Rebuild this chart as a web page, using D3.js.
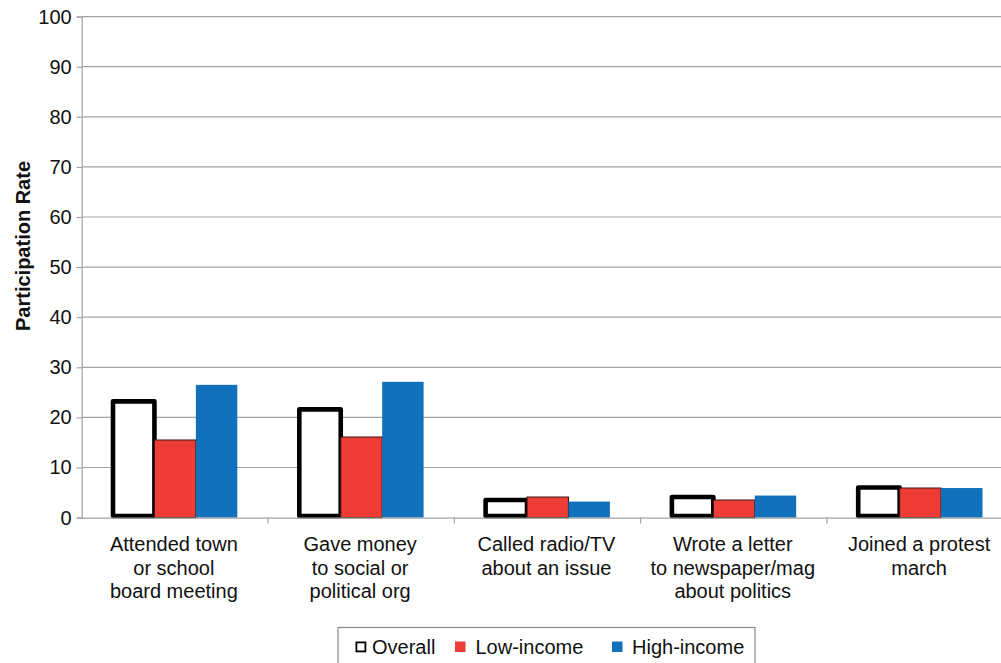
<!DOCTYPE html>
<html>
<head>
<meta charset="utf-8">
<script src="https://cdn.jsdelivr.net/npm/d3@7"></script>
<style>
  html, body { margin: 0; padding: 0; background: #fff; }
  svg { display: block; font-family: "Liberation Sans", Arial, Helvetica, sans-serif; }
</style>
</head>
<body>
<svg id="chart" width="1001" height="663"></svg>
<script>
// ---- data ----
const categories = [
  ["Attended town", "or school", "board meeting"],
  ["Gave money", "to social or", "political org"],
  ["Called radio/TV", "about an issue"],
  ["Wrote a letter", "to newspaper/mag", "about politics"],
  ["Joined a protest", "march"]
];
const seriesNames = ["Overall", "Low-income", "High-income"];
const overall    = [23.2, 21.6, 3.5, 4.1, 6.0];
const lowIncome  = [15.5, 16.1, 4.1, 3.5, 5.9];
const highIncome = [26.5, 27.1, 3.2, 4.4, 5.9];
const yTicks = [0, 10, 20, 30, 40, 50, 60, 70, 80, 90, 100];
const yLabel = "Participation Rate";

// ---- styles ----
const colors = { "Overall": "#ffffff", "Low-income": "#ee3d36", "High-income": "#1172bb" };
const gridColor = "#a3a3a3";
const fontSize = 20;

const svg = d3.select("#chart");
const pLeft = 81.7, pRight = 1013.2, pTop = 16.6, pBottom = 517.6;

const y = d3.scaleLinear().domain([0, 100]).range([pBottom, pTop]);
const idx = categories.map((d, i) => i);
const x0 = d3.scaleBand().domain(idx).range([pLeft, pRight]).padding(0);
const bw = x0.bandwidth();
const x1 = d3.scaleBand().domain(seriesNames).range([31.3, bw - 30.7]).padding(0);

const table = idx.map(i => ({
  i,
  values: [
    { s: "Overall", v: overall[i] },
    { s: "Low-income", v: lowIncome[i] },
    { s: "High-income", v: highIncome[i] }
  ]
}));

// gridlines
svg.append("g")
  .selectAll("line")
  .data(yTicks.filter(t => t > 0))
  .join("line")
  .attr("x1", pLeft).attr("x2", 1001)
  .attr("y1", d => y(d)).attr("y2", d => y(d))
  .attr("stroke", gridColor).attr("stroke-width", 1.2);

// y axis
const yAxis = d3.axisLeft(y).tickValues(yTicks).tickSize(5).tickPadding(5);
const gy = svg.append("g").attr("transform", `translate(${pLeft},0)`).call(yAxis);
gy.select(".domain").attr("stroke", gridColor).attr("stroke-width", 1.2);
gy.selectAll(".tick line").attr("stroke", gridColor).attr("stroke-width", 1.2);
gy.selectAll(".tick text").attr("font-size", fontSize).attr("fill", "#111")
  .attr("font-family", "'Liberation Sans', Arial, sans-serif");

// bars
const groups = svg.append("g").selectAll("g")
  .data(table).join("g")
  .attr("transform", d => `translate(${x0(d.i)},0)`);

groups.selectAll("rect")
  .data(d => d.values)
  .join("rect")
  .attr("x", d => x1(d.s))
  .attr("width", x1.bandwidth())
  .attr("y", d => y(d.v))
  .attr("height", d => y(0) - y(d.v) - (d.s === "Overall" ? 1.5 : 0))
  .attr("fill", d => colors[d.s])
  .attr("stroke", d => d.s === "Overall" ? "#000" : (d.s === "Low-income" ? "#3a1512" : "none"))
  .attr("stroke-width", d => d.s === "Overall" ? 4.6 : 1.1)
  .attr("stroke-linejoin", "round");

// x axis baseline and ticks
const xAxis = d3.axisBottom(x0).tickSize(0).tickFormat("");
const gx = svg.append("g").attr("transform", `translate(0,${pBottom})`).call(xAxis);
gx.select(".domain").attr("stroke", gridColor).attr("stroke-width", 1.2);
gx.selectAll(".tick").remove();
gx.selectAll("line.sep")
  .data(idx.slice(1))
  .join("line")
  .attr("class", "sep")
  .attr("x1", d => x0(d)).attr("x2", d => x0(d))
  .attr("y1", 0).attr("y2", 6)
  .attr("stroke", gridColor).attr("stroke-width", 1.2);

// category labels
const labels = svg.append("g").selectAll("text")
  .data(idx).join("text")
  .attr("x", d => x0(d) + bw / 2 - 1)
  .attr("y", 551)
  .attr("text-anchor", "middle")
  .attr("font-size", fontSize)
  .attr("fill", "#111");
labels.selectAll("tspan")
  .data(d => categories[d])
  .join("tspan")
  .attr("x", function () { return d3.select(this.parentNode).attr("x"); })
  .attr("dy", (d, i) => i === 0 ? 0 : 23.5)
  .text(d => d);

// y axis title
svg.append("text")
  .attr("transform", `translate(30,246) rotate(-90)`)
  .attr("text-anchor", "middle")
  .attr("font-size", fontSize)
  .attr("font-weight", "bold")
  .attr("fill", "#111")
  .text(yLabel);

// legend
const lg = svg.append("g");
lg.append("rect")
  .attr("x", 338).attr("y", 627.5).attr("width", 417).attr("height", 40)
  .attr("fill", "#fff").attr("stroke", "#8a8a8a").attr("stroke-width", 1.2);
const legendX = { "Overall": 355.5, "Low-income": 455, "High-income": 612 };
const items = lg.selectAll("g.item").data(seriesNames).join("g").attr("class", "item")
  .attr("transform", d => `translate(${legendX[d]},641.5)`);
items.append("rect")
  .attr("x", d => d === "Overall" ? 0.9 : 0)
  .attr("y", d => d === "Overall" ? 0.9 : 0)
  .attr("width", d => d === "Overall" ? 9 : 10.5)
  .attr("height", d => d === "Overall" ? 9 : 10.5)
  .attr("fill", d => colors[d])
  .attr("stroke", d => d === "Overall" ? "#000" : "none")
  .attr("stroke-width", 1.8);
items.append("text")
  .attr("x", d => d === "Overall" ? 16.5 : (d === "Low-income" ? 20.5 : 20))
  .attr("y", 12)
  .attr("font-size", fontSize)
  .attr("fill", "#111")
  .text(d => d);
</script>
</body>
</html>
